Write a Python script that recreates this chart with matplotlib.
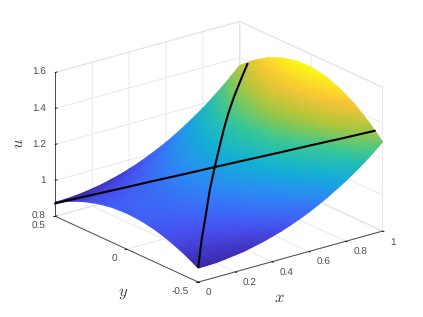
import numpy as np
import matplotlib
matplotlib.use('Agg')
import matplotlib.pyplot as plt
from matplotlib.collections import TriMesh
from matplotlib.colors import LinearSegmentedColormap, Normalize
from matplotlib.tri import Triangulation
from mpl_toolkits.mplot3d import proj3d

# values
x_grid = [0, .05, .1, .15, .2, .25, .3, .35, .4, .45, .5, .55, .6, .65, .7, .75, .8, .85, .9, .95, 1]
y_grid = [-.5, -.4, -.3, -.2, -.1, 0, .1, .2, .3, .4, .5]
u_table = [
    [.878, .921, .955, .980, .995, 1.000, .995, .980, .955, .921, .878],
    [.879, .922, .956, .981, .996, 1.001, .996, .981, .956, .922, .879],
    [.881, .926, .960, .985, 1.000, 1.005, 1.000, .985, .960, .926, .882],
    [.887, .930, .965, .990, 1.006, 1.011, 1.006, .991, .966, .931, .888],
    [.894, .937, .973, .999, 1.014, 1.019, 1.015, 1.000, .974, .939, .896],
    [.901, .947, .983, 1.008, 1.025, 1.030, 1.025, 1.010, .985, .950, .905],
    [.913, .958, .995, 1.021, 1.038, 1.044, 1.039, 1.024, .998, .962, .918],
    [.925, .971, 1.008, 1.036, 1.053, 1.059, 1.055, 1.039, 1.013, .977, .932],
    [.940, .988, 1.026, 1.054, 1.073, 1.079, 1.074, 1.058, 1.032, .996, .949],
    [.956, 1.006, 1.045, 1.075, 1.093, 1.100, 1.095, 1.080, 1.053, 1.016, .968],
    [.975, 1.027, 1.068, 1.098, 1.117, 1.124, 1.120, 1.104, 1.076, 1.039, .990],
    [.996, 1.050, 1.092, 1.123, 1.143, 1.151, 1.146, 1.130, 1.102, 1.064, 1.014],
    [1.019, 1.074, 1.118, 1.151, 1.171, 1.180, 1.176, 1.159, 1.131, 1.091, 1.040],
    [1.045, 1.103, 1.148, 1.183, 1.204, 1.213, 1.209, 1.193, 1.163, 1.123, 1.070],
    [1.073, 1.133, 1.181, 1.216, 1.239, 1.248, 1.244, 1.227, 1.198, 1.156, 1.102],
    [1.104, 1.166, 1.216, 1.253, 1.277, 1.287, 1.284, 1.266, 1.236, 1.193, 1.137],
    [1.136, 1.200, 1.253, 1.292, 1.316, 1.328, 1.324, 1.307, 1.276, 1.231, 1.174],
    [1.172, 1.241, 1.295, 1.335, 1.362, 1.373, 1.370, 1.352, 1.320, 1.275, 1.215],
    [1.210, 1.281, 1.338, 1.381, 1.409, 1.421, 1.418, 1.400, 1.367, 1.320, 1.258],
    [1.252, 1.326, 1.385, 1.430, 1.460, 1.473, 1.470, 1.451, 1.417, 1.368, 1.305],
    [1.296, 1.373, 1.436, 1.483, 1.514, 1.528, 1.526, 1.507, 1.472, 1.420, 1.355],
]

line1_x = [0, .1, .2, .3, .4, .5, .6, .7, .8, .9, 1]
line1_y = [.5, .406, .311, .217, .122, .028, -.066, -.161, -.255, -.35, -.444]
line1_u = [.872, .919, .965, 1.012, 1.058, 1.105, 1.151, 1.197, 1.244, 1.290, 1.337]

line2_x = [0, .125, .25, .37, .485, .59, .67, .76, .84, .92, 1]
line2_y = [-.5, -.362, -.228, -.103, .01, .115, .187, .27, .333, .392, .446]
line2_u = [.885, .948, .993, 1.061, 1.117, 1.151, 1.204, 1.241, 1.288, 1.332, 1.383]

x_ticks = [0, .2, .4, .6, .8, 1]
x_labels = ['0', '0.2', '0.4', '0.6', '0.8', '1']
y_ticks = [-.5, 0, .5]
y_labels = ['-0.5', '0', '0.5']
u_ticks = [.8, 1, 1.2, 1.4, 1.6]
u_labels = ['0.8', '1', '1.2', '1.4', '1.6']

parula = LinearSegmentedColormap.from_list('parula', [
    (.2422, .1504, .6603), (.2810, .3228, .9579), (.1786, .5289, .9682),
    (.0689, .6948, .8394), (.2161, .7843, .5923), (.6720, .7793, .2227),
    (.9970, .7659, .2199), (.9769, .9839, .0805)])

plt.rcParams['font.family'] = 'Liberation Sans'
plt.rcParams['mathtext.fontset'] = 'cm'
plt.rcParams['text.hinting'] = 'none'
plt.rcParams['text.hinting_factor'] = 1

fig = plt.figure(figsize=(4.23, 3.17), dpi=100)
ax = fig.add_axes([3.2 / 423, 2.45 / 317, 1, 1], projection='3d', computed_zorder=False)
ax.set_proj_type('ortho')
ax.view_init(elev=20.9, azim=-127.8)
ax.set_box_aspect((1, 1, .66), zoom=1.115)
ax.set_xlim(0, 1, view_margin=0)
ax.set_ylim(-.5, .5, view_margin=0)
ax.set_zlim(.8, 1.6, view_margin=0)
ax.patch.set_alpha(0)

ax.set_xticks(x_ticks)
ax.set_xticklabels(x_labels, ha='left', va='center')
ax.set_yticks(y_ticks)
ax.set_yticklabels(y_labels, ha='right', va='center')
ax.set_zticks(u_ticks)
ax.set_zticklabels(u_labels, ha='right', va='center')
ax.tick_params(labelsize=7.2, labelcolor='.3', pad=-1.6)
ax.tick_params(axis='z', pad=-4.6)

for axis in (ax.xaxis, ax.yaxis, ax.zaxis):
    axis.set_pane_color((1, 1, 1, 1))
    axis.pane.set_edgecolor('.87')
    axis.pane.set_linewidth(.7)
    axis.line.set_color('.3')
    axis.line.set_linewidth(.7)
    axis._axinfo['grid'].update(color='.9', linewidth=.6)
    axis._axinfo['tick'].update(inward_factor=.12, outward_factor=0, color='.3',
                                linewidth={True: .6, False: .4})
ax.zaxis._axinfo['tick'].update(inward_factor=0, outward_factor=.12)

# surface as a gouraud mesh so that colours run smooth over the read grid
Y, X = np.meshgrid(y_grid, x_grid)
U = np.array(u_table)
tx, ty, _ = proj3d.proj_transform(X.ravel(), Y.ravel(), U.ravel(), ax.get_proj())
n, m = U.shape
tris = []
for i in range(n - 2, -1, -1):
    for j in range(m - 2, -1, -1):
        a = i * m + j
        tris.append([a, a + 1, a + m])
        tris.append([a + 1, a + m + 1, a + m])
mesh = TriMesh(Triangulation(np.asarray(tx), np.asarray(ty), tris),
               transform=ax.transData, cmap=parula,
               norm=Normalize(U.min(), U.max()), zorder=5, clip_on=False)
mesh.set_array(U.ravel())
mesh.do_3d_projection = lambda: 0
ax.add_collection(mesh, autolim=False)

ax.plot(line1_x, line1_y, line1_u, color='k', lw=1.5, zorder=6, clip_on=False)
ax.plot(line2_x, line2_y, line2_u, color='k', lw=1.5, zorder=6, clip_on=False)

ax.text2D(279 / 423, 1 - 297 / 317, '$x$', transform=fig.transFigure, fontsize=12, ha='center', va='center', color='.25')
ax.text2D(123 / 423, 1 - 293 / 317, '$y$', transform=fig.transFigure, fontsize=12, ha='center', va='center', color='.25')
ax.text2D(18 / 423, 1 - 143 / 317, '$u$', transform=fig.transFigure, fontsize=12, ha='center', va='center', rotation=90, color='.25')

fig.savefig('out.png', dpi=100)
